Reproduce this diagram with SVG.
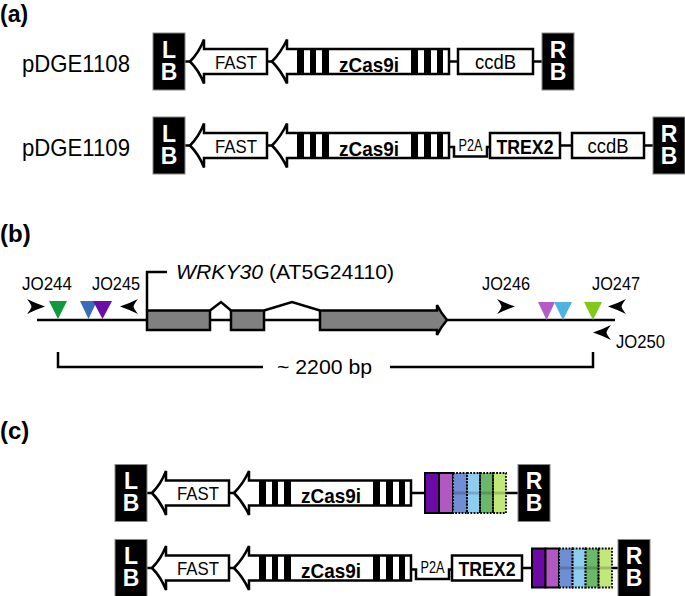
<svg xmlns="http://www.w3.org/2000/svg" width="685" height="596" viewBox="0 0 685 596">
<style>
.t{font-family:"Liberation Sans",Arial,sans-serif;fill:#000}
.b{font-weight:bold}
.bw{font-family:"Liberation Sans",Arial,sans-serif;font-weight:bold;fill:#fff;font-size:23px;text-anchor:middle}
.bx{fill:#000;stroke:#888;stroke-width:1}
.arr{fill:#fff;stroke:#000;stroke-width:2.5;stroke-linejoin:miter}
.box{fill:#fff;stroke:#000;stroke-width:2.5}
.ln{stroke:#000;stroke-width:2.5;fill:none}
.ex{fill:#808080;stroke:#000;stroke-width:2.5;stroke-linejoin:miter}
.sol{stroke:#000;stroke-width:2}
.dot{fill:none;stroke:#000;stroke-width:1.8;stroke-dasharray:1.8 1.4}
.band{stroke:#000;stroke-opacity:0.18;stroke-width:3}
</style>
<defs>
<g id="lbS"><rect x="0" y="-28.5" width="32" height="57" class="bx"/><text x="16" y="-4" class="bw">L</text><text x="16" y="18" class="bw">B</text></g>
<g id="rbS"><rect x="0" y="-28.5" width="32" height="57" class="bx"/><text x="16" y="-4" class="bw">R</text><text x="16" y="18" class="bw">B</text></g>
<g id="fastS"><path class="arr" d="M0,0 Q9,-9 14,-22 L14,-12.5 L77,-12.5 L77,12.5 L14,12.5 L14,22 Q9,9 0,0 Z"/><text class="t" x="46" y="7" font-size="19" text-anchor="middle" textLength="42" lengthAdjust="spacingAndGlyphs">FAST</text></g>
<g id="casS"><path class="arr" d="M0,0 Q9,-9 15,-22 L15,-12.5 L177,-12.5 L177,12.5 L15,12.5 L15,22 Q9,9 0,0 Z"/>
<rect x="25" y="-12.5" width="7" height="25"/><rect x="38" y="-12.5" width="6" height="25"/><rect x="50" y="-12.5" width="7" height="25"/>
<rect x="139" y="-12.5" width="7" height="25"/><rect x="152" y="-12.5" width="7" height="25"/><rect x="165" y="-12.5" width="6" height="25"/>
<text class="t b" x="97" y="10" font-size="20.5" text-anchor="middle" textLength="60" lengthAdjust="spacingAndGlyphs">zCas9i</text></g>
<g id="p2aS"><path class="ln" d="M0,1.5 L5,1.5 L5,11 L38,11 L38,1.5 L41,1.5"/><text class="t" x="21.5" y="5" font-size="16.5" text-anchor="middle" textLength="24" lengthAdjust="spacingAndGlyphs">P2A</text></g>
<path id="prR" d="M0,0 Q-9,-3 -18,-7.5 Q-14,-2.5 -13.5,0 Q-14,2.5 -18,7.5 Q-9,3 0,0 Z" fill="#000"/>
<path id="prL" d="M0,0 Q9,-3 18,-7.5 Q14,-2.5 13.5,0 Q14,2.5 18,7.5 Q9,3 0,0 Z" fill="#000"/>
</defs>

<!-- panel labels -->
<text class="t b" x="0" y="21.5" font-size="23">(a)</text>
<text class="t b" x="0" y="242" font-size="24">(b)</text>
<text class="t b" x="0" y="439" font-size="24">(c)</text>

<text class="t" x="22" y="72" font-size="24" textLength="108" lengthAdjust="spacingAndGlyphs">pDGE1108</text>
<text class="t" x="22" y="156" font-size="24" textLength="108" lengthAdjust="spacingAndGlyphs">pDGE1109</text>

<g id="connectors">
<line class="ln" x1="185" y1="61.5" x2="190" y2="61.5"/>
<line class="ln" x1="267" y1="61.5" x2="272" y2="61.5"/>
<line class="ln" x1="449" y1="61.5" x2="458" y2="61.5"/>
<line class="ln" x1="533" y1="61.5" x2="542" y2="61.5"/>
<line class="ln" x1="185" y1="145.5" x2="190" y2="145.5"/>
<line class="ln" x1="267" y1="145.5" x2="272" y2="145.5"/>
<line class="ln" x1="560" y1="145.5" x2="572" y2="145.5"/>
<line class="ln" x1="644" y1="145.5" x2="653" y2="145.5"/>
<line class="ln" x1="147" y1="493" x2="152" y2="493"/>
<line class="ln" x1="229" y1="493" x2="234" y2="493"/>
<line class="ln" x1="411" y1="493" x2="425" y2="493"/>
<line class="ln" x1="506" y1="493" x2="518" y2="493"/>
<line class="ln" x1="147" y1="568" x2="152" y2="568"/>
<line class="ln" x1="229" y1="568" x2="234" y2="568"/>
<line class="ln" x1="522" y1="568" x2="532" y2="568"/>
<line class="ln" x1="612" y1="568" x2="618" y2="568"/>
<!-- panel b genome line and bracket -->
<line class="ln" x1="37" y1="320" x2="615" y2="320"/>
<path class="ln" d="M147,310 L147,272 L167,272"/>
<path class="ln" d="M210,310.5 L221,302 L231,310.5"/>
<path class="ln" d="M264,310.5 L292,302 L320,310.5"/>
<path class="ln" d="M58,352 L58,367 L263,367"/>
<path class="ln" d="M390,367 L593,367 L593,352"/>
</g>

<!-- row a1 -->
<g id="a1-LB" transform="translate(153,61.5)"><use href="#lbS"/></g>
<g id="a1-FAST" transform="translate(190,61.5)"><use href="#fastS"/></g>
<g id="a1-zCas9i" transform="translate(272,61.5)"><use href="#casS"/></g>
<g id="a1-ccdB"><rect class="box" x="458" y="49" width="75" height="25"/><text class="t" x="495.5" y="68.5" font-size="21" text-anchor="middle" textLength="41" lengthAdjust="spacingAndGlyphs">ccdB</text></g>
<g id="a1-RB" transform="translate(542,61.5)"><use href="#rbS"/></g>

<!-- row a2 -->
<g id="a2-LB" transform="translate(153,145.5)"><use href="#lbS"/></g>
<g id="a2-FAST" transform="translate(190,145.5)"><use href="#fastS"/></g>
<g id="a2-zCas9i" transform="translate(272,145.5)"><use href="#casS"/></g>
<g id="a2-P2A" transform="translate(449,145.5)"><use href="#p2aS"/></g>
<g id="a2-TREX2"><rect class="box" x="490" y="133" width="70" height="25"/><text class="t b" x="525" y="153.5" font-size="20.5" text-anchor="middle" textLength="57" lengthAdjust="spacingAndGlyphs">TREX2</text></g>
<g id="a2-ccdB"><rect class="box" x="572" y="133" width="72" height="25"/><text class="t" x="608" y="152.5" font-size="21" text-anchor="middle" textLength="41" lengthAdjust="spacingAndGlyphs">ccdB</text></g>
<g id="a2-RB" transform="translate(653,145.5)"><use href="#rbS"/></g>

<!-- panel b -->
<g id="b-exon1"><rect class="ex" x="147" y="310.5" width="63" height="19.5"/></g>
<g id="b-exon2"><rect class="ex" x="231" y="310.5" width="33" height="19.5"/></g>
<g id="b-exon3"><path class="ex" d="M320,310.5 L437,310.5 L437,305 Q441,313 447,320 Q441,327 437,335 L437,330 L320,330 Z"/></g>
<g id="b-gene-label"><text class="t" x="176" y="278.5" font-size="21" textLength="218" lengthAdjust="spacingAndGlyphs"><tspan font-style="italic">WRKY30</tspan> (AT5G24110)</text></g>
<g id="b-targets-left">
<path d="M49,301 L67,301 L58,319 Z" fill="#0f9b3c"/>
<path d="M80,301 L97,301 L88.5,319 Z" fill="#3a6db8"/>
<path d="M93,301 L112,301 L102.5,319 Z" fill="#6a0ea6"/>
</g>
<g id="b-targets-right">
<path d="M538,302 L555,302 L546.5,320 Z" fill="#b45cc4"/>
<path d="M554,302 L572,302 L563,320 Z" fill="#4fb3e0"/>
<path d="M584,302 L602,302 L593,320 Z" fill="#82c81e"/>
</g>
<g id="b-JO244"><use href="#prR" transform="translate(45,306.5)"/><text class="t" x="22" y="290" font-size="17.5" textLength="50" lengthAdjust="spacingAndGlyphs">JO244</text></g>
<g id="b-JO245"><use href="#prL" transform="translate(120,306.5)"/><text class="t" x="92" y="290" font-size="17.5" textLength="48" lengthAdjust="spacingAndGlyphs">JO245</text></g>
<g id="b-JO246"><use href="#prR" transform="translate(515,306.5)"/><text class="t" x="482" y="290" font-size="17.5" textLength="48" lengthAdjust="spacingAndGlyphs">JO246</text></g>
<g id="b-JO247"><use href="#prL" transform="translate(608,306.5)"/><text class="t" x="592" y="290" font-size="17.5" textLength="48" lengthAdjust="spacingAndGlyphs">JO247</text></g>
<g id="b-JO250"><use href="#prL" transform="translate(593,332.5)"/><text class="t" x="616" y="348" font-size="17.5" textLength="49" lengthAdjust="spacingAndGlyphs">JO250</text></g>
<g id="b-size"><text class="t" x="277" y="374" font-size="21" textLength="95" lengthAdjust="spacingAndGlyphs">~ 2200 bp</text></g>

<!-- row c1 -->
<g id="c1-LB" transform="translate(115,493)"><use href="#lbS"/></g>
<g id="c1-FAST" transform="translate(152,493)"><use href="#fastS"/></g>
<g id="c1-zCas9i" transform="translate(234,493)"><use href="#casS"/></g>
<g id="c1-targets" transform="translate(425,493)">
<rect x="0" y="-20" width="14" height="40" fill="#6c0aa6" class="sol"/>
<rect x="14" y="-20" width="14" height="40" fill="#b158c2" class="sol"/>
<rect x="28" y="-20" width="14" height="40" fill="#6f8ed4"/>
<rect x="42" y="-20" width="13" height="40" fill="#8fcdef"/>
<rect x="55" y="-20" width="13" height="40" fill="#6cb86a"/>
<rect x="68" y="-20" width="13" height="40" fill="#c2e87a"/>
<line class="band" x1="28" y1="0" x2="81" y2="0"/>
<rect x="28" y="-20" width="14" height="40" class="dot"/>
<rect x="42" y="-20" width="13" height="40" class="dot"/>
<rect x="55" y="-20" width="13" height="40" class="dot"/>
<rect x="68" y="-20" width="13" height="40" class="dot"/>
</g>
<g id="c1-RB" transform="translate(518,493)"><use href="#rbS"/></g>

<!-- row c2 -->
<g id="c2-LB" transform="translate(115,568)"><use href="#lbS"/></g>
<g id="c2-FAST" transform="translate(152,568)"><use href="#fastS"/></g>
<g id="c2-zCas9i" transform="translate(234,568)"><use href="#casS"/></g>
<g id="c2-P2A" transform="translate(411,568)"><use href="#p2aS"/></g>
<g id="c2-TREX2"><rect class="box" x="452" y="555.5" width="70" height="25"/><text class="t b" x="487" y="576" font-size="20.5" text-anchor="middle" textLength="57" lengthAdjust="spacingAndGlyphs">TREX2</text></g>
<g id="c2-targets" transform="translate(532,568)">
<rect x="0" y="-19.5" width="13.5" height="39" fill="#6c0aa6" class="sol"/>
<rect x="13.5" y="-19.5" width="13.5" height="39" fill="#b158c2" class="sol"/>
<rect x="27" y="-19.5" width="13.5" height="39" fill="#6f8ed4"/>
<rect x="40.5" y="-19.5" width="13" height="39" fill="#8fcdef"/>
<rect x="53.5" y="-19.5" width="13" height="39" fill="#6cb86a"/>
<rect x="66.5" y="-19.5" width="13.5" height="39" fill="#c2e87a"/>
<line class="band" x1="27" y1="0" x2="80" y2="0"/>
<rect x="27" y="-19.5" width="13.5" height="39" class="dot"/>
<rect x="40.5" y="-19.5" width="13" height="39" class="dot"/>
<rect x="53.5" y="-19.5" width="13" height="39" class="dot"/>
<rect x="66.5" y="-19.5" width="13.5" height="39" class="dot"/>
</g>
<g id="c2-RB" transform="translate(618,568)"><use href="#rbS"/></g>
</svg>
